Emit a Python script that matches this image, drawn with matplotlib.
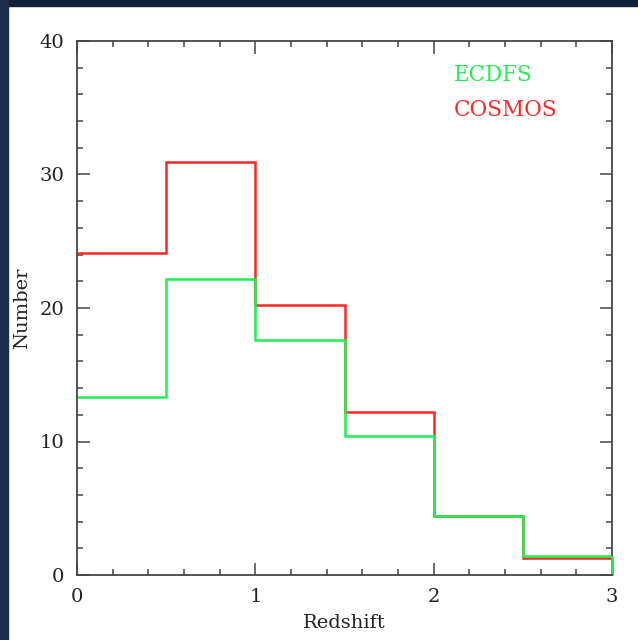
import matplotlib.pyplot as plt
from matplotlib.patches import Rectangle
from matplotlib.ticker import MultipleLocator
import numpy as np

# redshift bins and number counts per survey
z_edges = [0.0, 0.5, 1.0, 1.5, 2.0, 2.5, 3.0]
ecdfs_counts = [13.3, 22.2, 17.6, 10.4, 4.4, 1.45]
cosmos_counts = [24.1, 30.9, 20.2, 12.2, 4.4, 1.25]

RED = '#ff2626'
GREEN = '#1ff04f'
AXCOL = '#444444'

plt.rcParams['font.family'] = ['DejaVu Serif']

fig = plt.figure(figsize=(6.38, 6.40), dpi=100, facecolor='white')

# dark slide border along top and left edge
W, H = 638, 640
fig.patches.append(Rectangle((0, 1 - 6 / H), 1, 6 / H, transform=fig.transFigure,
                             color='#13203a', zorder=0))
fig.patches.append(Rectangle((0, 0), 8 / W, 1, transform=fig.transFigure,
                             color='#1a2d4a', zorder=0))

ax = fig.add_axes([77 / W, 1 - 575 / H, (612 - 77) / W, (575 - 41) / H])

# open histogram outline, closed only at the high-redshift end
for counts, col, z in ((cosmos_counts, RED, 2.1), (ecdfs_counts, GREEN, 2.2)):
    ax.stairs(counts, z_edges, baseline=None, color=col, lw=1.8, zorder=z)
    ax.vlines(z_edges[-1], 0, counts[-1], color=col, lw=1.8, zorder=z,
              clip_on=False)

ax.set_xlim(0, 3)
ax.set_ylim(0, 40)
ax.xaxis.set_major_locator(MultipleLocator(1))
ax.xaxis.set_minor_locator(MultipleLocator(0.2))
ax.yaxis.set_major_locator(MultipleLocator(10))
ax.yaxis.set_minor_locator(MultipleLocator(2))

ax.tick_params(which='both', direction='in', top=True, right=True,
               color=AXCOL, width=1.1, labelsize=14, labelcolor='#222222')
ax.tick_params(which='major', length=9, pad=9)
ax.tick_params(which='minor', length=4.5)
for name, s in ax.spines.items():
    s.set_color(AXCOL)
    s.set_linewidth(1.3)
    s.set_zorder(3 if name in ('left', 'bottom') else 1.5)

ax.set_xlabel('Redshift', fontsize=14, color='#222222', labelpad=6)
ax.set_ylabel('Number', fontsize=14, color='#222222', labelpad=6)

ax.text(0.705, 0.937, 'ECDFS', transform=ax.transAxes, color=GREEN,
        fontsize=15.5, ha='left', va='center')
ax.text(0.705, 0.87, 'COSMOS', transform=ax.transAxes, color=RED,
        fontsize=15.5, ha='left', va='center')

fig.savefig('out.png', dpi=100, facecolor=fig.get_facecolor())
